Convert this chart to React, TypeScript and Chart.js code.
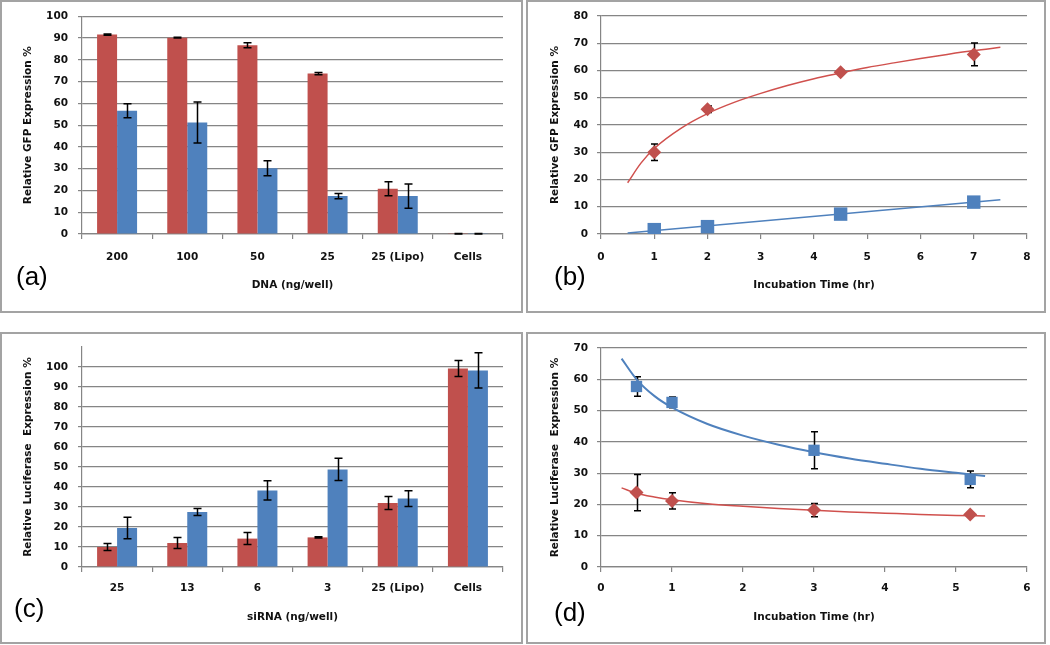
import React, { useEffect, useRef } from 'react';
import { Chart, registerables } from 'chart.js';

Chart.register(...registerables);

const RED = '#C0504D';
const BLUE = '#4F81BD';
const GRID = '#858585';
const TEXT = '#111111';
const FONT = 'DejaVu Sans';

// ---------- (a) GFP vs DNA ----------
const dnaLabels = ['200', '100', '50', '25', '25 (Lipo)', 'Cells'];
const gfpRed = [91.6, 90.2, 86.7, 73.7, 20.8, 0.1];
const gfpRedErr = [0.3, 0.2, 1.2, 0.5, 3.2, 0.1];
const gfpBlue = [56.6, 51.2, 30.2, 17.4, 17.4, 0.1];
const gfpBlueErr = [3.2, 9.4, 3.4, 1.2, 5.6, 0.1];

// ---------- (b) GFP vs incubation time ----------
const timeB = [1, 2, 4.5, 7];
const gfpTimeRed = [30.0, 45.8, 59.4, 65.9];
const gfpTimeRedErr = [3.0, 1.2, 0.6, 4.2];
const gfpTimeBlue = [1.6, 2.7, 7.3, 11.7];
const trendBRedX = [0.5, 0.75, 1, 1.5, 2, 2.5, 3, 3.5, 4, 4.5, 5, 5.5, 6, 6.5, 7, 7.5];
const trendBRedY = [18.8, 26, 31.4, 38.8, 44.2, 48.3, 51.6, 54.5, 57, 59.1, 61.1, 62.8, 64.4, 65.9, 67.3, 68.5];
const trendBBlueX = [0.5, 7.5];
const trendBBlueY = [0.4, 12.6];

// ---------- (c) Luciferase vs siRNA ----------
const sirnaLabels = ['25', '13', '6', '3', '25 (Lipo)', 'Cells'];
const lucRed = [10, 12, 14.2, 14.8, 32, 99.2];
const lucRedErr = [1.8, 2.8, 3, 0.3, 3.3, 4];
const lucBlue = [19.5, 27.5, 38.3, 48.8, 34.2, 98.3];
const lucBlueErr = [5.4, 1.7, 4.8, 5.6, 3.9, 8.8];

// ---------- (d) Luciferase vs incubation time ----------
const timeD = [0.5, 1, 3, 5.2];
const lucTimeBlue = [57.7, 52.6, 37.3, 28.0];
const lucTimeBlueErr = [3.1, 1.7, 5.9, 2.7];
const lucTimeRed = [23.8, 21.1, 18.2, 16.8];
const lucTimeRedErr = [5.8, 2.6, 2.1, 0.3];
const trendDX = [0.29, 0.5, 0.75, 1, 1.5, 2, 2.5, 3, 3.5, 4, 4.5, 5, 5.41];
const trendDBlueY = [66.6, 60.0, 54.7, 51, 45.7, 42, 39.1, 36.7, 34.7, 33, 31.4, 30.1, 29.1];
const trendDRedY = [25.3, 23.6, 22.4, 21.5, 20.2, 19.4, 18.7, 18.1, 17.6, 17.2, 16.8, 16.5, 16.3];

const zip = (xs: number[], ys: number[]) => xs.map((x, i) => ({ x, y: ys[i] }));

type ErrSet = { index: number; errors: number[]; cap: number };

function makeErrorPlugin(sets: ErrSet[], under: boolean) {
  const draw = (chart: any) => {
    const ctx = chart.ctx;
    const yScale = chart.scales.y;
    ctx.save();
    ctx.strokeStyle = '#000';
    ctx.lineWidth = 1.5;
    sets.forEach((s) => {
      const meta = chart.getDatasetMeta(s.index);
      const data = chart.data.datasets[s.index].data;
      meta.data.forEach((el: any, i: number) => {
        const e = s.errors[i];
        if (e == null || e <= 0) return;
        const d = data[i];
        const v = typeof d === 'number' ? d : d.y;
        const x = Math.round(el.x) + 0.5;
        const yt = yScale.getPixelForValue(v + e);
        const yb = yScale.getPixelForValue(v - e);
        ctx.beginPath();
        ctx.moveTo(x, yt);
        ctx.lineTo(x, yb);
        ctx.moveTo(x - s.cap, yt);
        ctx.lineTo(x + s.cap, yt);
        ctx.moveTo(x - s.cap, yb);
        ctx.lineTo(x + s.cap, yb);
        ctx.stroke();
      });
    });
    ctx.restore();
  };
  return {
    id: 'errorBars',
    beforeDatasetsDraw(chart: any) {
      if (under) draw(chart);
    },
    afterDatasetsDraw(chart: any) {
      if (!under) draw(chart);
    },
  };
}

const tickFont = { family: FONT, size: 10.5, weight: 'bold' as const };
const titleFont = { family: FONT, size: 10.5, weight: 'bold' as const };

function yAxis(o: { max: number; width: number; title: string; titlePad: number; tickPad: number; hideTop?: boolean }) {
  return {
    type: 'linear',
    min: 0,
    max: o.max,
    ticks: {
      stepSize: 10,
      padding: o.tickPad,
      color: TEXT,
      font: tickFont,
      callback: (v: any) => (o.hideTop && v === o.max ? '' : String(v)),
    },
    grid: {
      color: (c: any) => (o.hideTop && c.tick && c.tick.value === o.max ? 'rgba(0,0,0,0)' : GRID),
      lineWidth: 1.2,
      tickLength: 4,
      drawTicks: true,
    },
    border: { color: GRID, width: 1.2 },
    title: { display: true, text: o.title, color: TEXT, font: titleFont, padding: { top: o.titlePad, bottom: 0 } },
    afterFit: (s: any) => {
      s.width = o.width;
    },
  };
}

function catAxis(o: { height: number; title: string; titlePad: number; tickPad: number }) {
  return {
    type: 'category',
    offset: true,
    grid: { offset: true, drawOnChartArea: false, drawTicks: true, tickLength: 5, color: GRID, lineWidth: 1.2 },
    border: { color: GRID, width: 1.2 },
    ticks: { padding: o.tickPad, color: TEXT, font: tickFont, maxRotation: 0, autoSkip: false },
    title: { display: true, text: o.title, color: TEXT, font: titleFont, padding: { top: 0, bottom: o.titlePad } },
    afterFit: (s: any) => {
      s.height = o.height;
    },
  };
}

function linAxis(o: { max: number; height: number; title: string; titlePad: number; tickPad: number }) {
  return {
    type: 'linear',
    min: 0,
    max: o.max,
    grid: { drawOnChartArea: false, drawTicks: true, tickLength: 5, color: GRID, lineWidth: 1.2 },
    border: { color: GRID, width: 1.2 },
    ticks: { stepSize: 1, padding: o.tickPad, color: TEXT, font: tickFont, maxRotation: 0 },
    title: { display: true, text: o.title, color: TEXT, font: titleFont, padding: { top: 0, bottom: o.titlePad } },
    afterFit: (s: any) => {
      s.height = o.height;
    },
  };
}

const common = (padding: any) => ({
  responsive: false,
  maintainAspectRatio: false,
  animation: false,
  devicePixelRatio: 1,
  events: [],
  layout: { padding },
  plugins: { legend: { display: false }, tooltip: { enabled: false } },
});

function barDataset(data: number[], color: string) {
  return {
    data,
    backgroundColor: color,
    borderWidth: 0,
    categoryPercentage: 0.57,
    barPercentage: 1,
  };
}

function configA(): any {
  return {
    type: 'bar',
    data: {
      labels: dnaLabels,
      datasets: [barDataset(gfpRed, RED), barDataset(gfpBlue, BLUE)],
    },
    options: {
      ...common({ top: 16, right: 22, bottom: 0, left: 0 }),
      scales: {
        x: catAxis({ height: 86, title: 'DNA (ng/well)', titlePad: 28, tickPad: 12 }),
        y: yAxis({ max: 100, width: 82, title: 'Relative GFP Expression %', titlePad: 22, tickPad: 10 }),
      },
    },
    plugins: [
      makeErrorPlugin(
        [
          { index: 0, errors: gfpRedErr, cap: 4 },
          { index: 1, errors: gfpBlueErr, cap: 4 },
        ],
        false
      ),
    ],
  };
}

function configC(): any {
  return {
    type: 'bar',
    data: {
      labels: sirnaLabels,
      datasets: [barDataset(lucRed, RED), barDataset(lucBlue, BLUE)],
    },
    options: {
      ...common({ top: 27, right: 22, bottom: 0, left: 0 }),
      scales: {
        x: catAxis({ height: 78, title: 'siRNA (ng/well)', titlePad: 21, tickPad: 10 }),
        y: yAxis({ max: 110, width: 82, title: 'Relative Luciferase  Expression %', titlePad: 22, tickPad: 10, hideTop: true }),
      },
    },
    plugins: [
      makeErrorPlugin(
        [
          { index: 0, errors: lucRedErr, cap: 4 },
          { index: 1, errors: lucBlueErr, cap: 4 },
        ],
        false
      ),
    ],
  };
}

function marker(data: any[], color: string, style: string, radius: number) {
  return {
    data,
    showLine: false,
    pointStyle: style,
    pointRadius: radius,
    pointBackgroundColor: color,
    pointBorderColor: color,
    pointBorderWidth: 0,
  };
}

function trend(data: any[], color: string, width: number) {
  return {
    data,
    showLine: true,
    pointRadius: 0,
    borderColor: color,
    borderWidth: width,
    cubicInterpolationMode: 'monotone',
    fill: false,
  };
}

function configB(): any {
  return {
    type: 'scatter',
    data: {
      datasets: [
        marker(zip(timeB, gfpTimeRed), RED, 'rectRot', 7),
        marker(zip(timeB, gfpTimeBlue), BLUE, 'rect', 9.5),
        trend(zip(trendBRedX, trendBRedY), '#D0504D', 1.5),
        trend(zip(trendBBlueX, trendBBlueY), BLUE, 1.5),
      ],
    },
    options: {
      ...common({ top: 16, right: 23, bottom: 0, left: 0 }),
      scales: {
        x: linAxis({ max: 8, height: 86, title: 'Incubation Time (hr)', titlePad: 28, tickPad: 12 }),
        y: yAxis({ max: 80, width: 76, title: 'Relative GFP Expression %', titlePad: 24, tickPad: 9 }),
      },
    },
    plugins: [makeErrorPlugin([{ index: 0, errors: gfpTimeRedErr, cap: 3.5 }], true)],
  };
}

function configD(): any {
  return {
    type: 'scatter',
    data: {
      datasets: [
        marker(zip(timeD, lucTimeRed), RED, 'rectRot', 7),
        marker(zip(timeD, lucTimeBlue), BLUE, 'rect', 8),
        trend(zip(trendDX, trendDRedY), '#D0504D', 1.5),
        trend(zip(trendDX, trendDBlueY), BLUE, 2),
      ],
    },
    options: {
      ...common({ top: 28, right: 23, bottom: 0, left: 0 }),
      scales: {
        x: linAxis({ max: 6, height: 78, title: 'Incubation Time (hr)', titlePad: 21, tickPad: 10 }),
        y: yAxis({ max: 70, width: 76, title: 'Relative Luciferase  Expression %', titlePad: 24, tickPad: 9 }),
      },
    },
    plugins: [
      makeErrorPlugin(
        [
          { index: 0, errors: lucTimeRedErr, cap: 3.5 },
          { index: 1, errors: lucTimeBlueErr, cap: 3.5 },
        ],
        true
      ),
    ],
  };
}

function ChartCanvas({ left, top, width, height, make }: any) {
  const ref = useRef<HTMLCanvasElement | null>(null);
  useEffect(() => {
    if (!ref.current) return;
    const chart = new Chart(ref.current, make());
    return () => chart.destroy();
  }, []);
  return (
    <canvas
      ref={ref}
      width={width}
      height={height}
      style={{ position: 'absolute', left, top, width, height, display: 'block' }}
    />
  );
}

function Frame({ left, top, width, height }: any) {
  return (
    <div
      style={{
        position: 'absolute',
        left,
        top,
        width,
        height,
        boxSizing: 'border-box',
        border: '2px solid #a3a3a3',
        background: '#fff',
      }}
    />
  );
}

function PanelLabel({ left, top, text }: any) {
  return (
    <div
      style={{
        position: 'absolute',
        left,
        top,
        font: '26px "Liberation Sans"',
        lineHeight: '26px',
        color: '#000',
        whiteSpace: 'nowrap',
      }}
    >
      {text}
    </div>
  );
}

export default function App() {
  return (
    <div style={{ position: 'absolute', left: 0, top: 0, width: 1050, height: 645, background: '#fff', overflow: 'hidden' }}>
      <Frame left={0} top={0} width={523} height={313} />
      <Frame left={526} top={0} width={520} height={313} />
      <Frame left={0} top={332} width={523} height={312} />
      <Frame left={526} top={332} width={520} height={312} />
      <ChartCanvas left={0} top={0} width={525} height={320} make={configA} />
      <ChartCanvas left={525} top={0} width={525} height={320} make={configB} />
      <ChartCanvas left={0} top={320} width={525} height={325} make={configC} />
      <ChartCanvas left={525} top={320} width={525} height={325} make={configD} />
      <PanelLabel left={16} top={263} text="(a)" />
      <PanelLabel left={554} top={263} text="(b)" />
      <PanelLabel left={14} top={595} text="(c)" />
      <PanelLabel left={554} top={599} text="(d)" />
    </div>
  );
}
